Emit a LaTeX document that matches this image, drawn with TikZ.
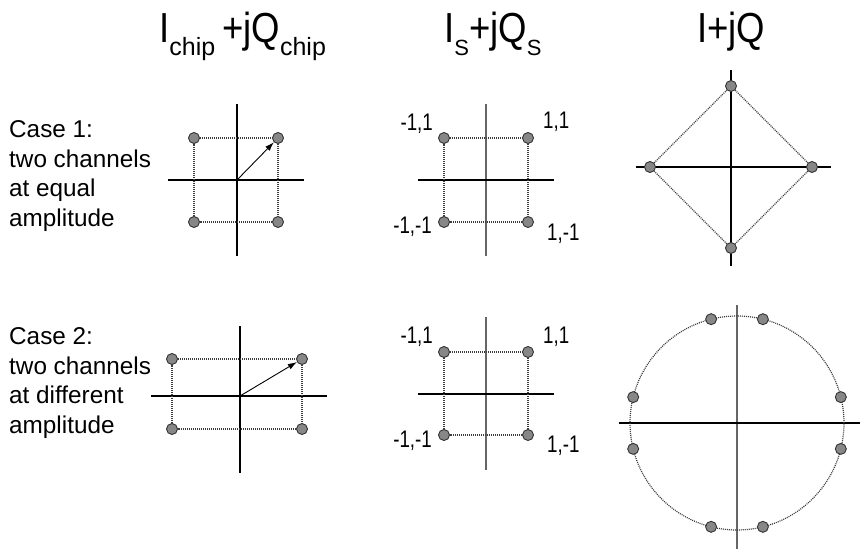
\documentclass[tikz,border=0pt]{standalone}
\usepackage{fontspec}
\setmainfont{Liberation Sans}
\newfontfamily\condfont{Liberation Sans}[FakeStretch=0.87]
\newfontfamily\lblfont{Liberation Sans}[FakeStretch=0.78]
\usepackage{tikz}
\usetikzlibrary{arrows.meta,positioning,calc}
\definecolor{dotgray}{RGB}{135,135,135}
\definecolor{dotedge}{RGB}{50,50,50}
\definecolor{guidegray}{RGB}{60,60,60}
\newcommand{\sub}[2][25]{\raisebox{-13pt}{\normalfont\fontsize{#1}{#1}\selectfont #2}}

\begin{document}
\begin{tikzpicture}[
x=1pt,y=-1pt,
dot/.style={circle,draw=dotedge,fill=dotgray,line width=0.9pt,minimum size=11pt,inner sep=0pt},
axis/.style={line width=1.2pt,black},
axisg/.style={line width=1.2pt,black!60},
guide/.style={guidegray,line width=1.2pt,dash pattern=on 1pt off 1pt},
vec/.style={-{Latex[length=9pt,width=6pt]},line width=0.9pt},
ttl/.style={anchor=base west,inner sep=0pt,font=\condfont\fontsize{42}{42}\selectfont},
lbl/.style={inner sep=0pt,font=\lblfont\fontsize{24}{24}\selectfont},
txt/.style={anchor=base west,inner sep=0pt,align=left,font=\fontsize{24.3}{29.5}\selectfont}
]
\useasboundingbox (0,0) rectangle (862,554);

% column titles
\node[ttl] (t1) at (159,42) {I\sub{chip}\hspace{7pt}+jQ\sub{chip}};
\node[ttl] (t2) at (444,42) {I\sub[22]{S}+jQ\sub[22]{S}};
\node[ttl] (t3) at (697,42) {I+jQ};

% row captions (base = last line)
\node[txt] (case1) at (9,226) {Case 1:\\two channels\\at equal\\amplitude};
\node[txt] (case2) at (9,433) {Case 2:\\two channels\\at different\\amplitude};

% case 1, chip
\coordinate (o11) at (237,180);
\draw[axis] (237,104) -- (237,256);
\draw[axis] (168,180) -- (304,180);
\node[dot] (a11) at (194,138) {};
\node[dot] (b11) at (278,138) {};
\node[dot] (c11) at (278,222) {};
\node[dot] (d11) at (194,222) {};
\draw[guide] (a11) -- (b11) -- (c11) -- (d11) -- (a11);
\draw[vec] (o11) -- (b11);

% case 1, symbols
\draw[axisg] (486,104) -- (486,256);
\draw[axis] (418,180) -- (554,180);
\node[dot] (a12) at (444,138) {};
\node[dot] (b12) at (528,138) {};
\node[dot] (c12) at (528,222) {};
\node[dot] (d12) at (444,222) {};
\draw[guide] (a12) -- (b12) -- (c12) -- (d12) -- (a12);
\node[lbl,anchor=base east] (la12) at (433,130) {-1,1};
\node[lbl,anchor=base west] (lb12) at (543,128) {1,1};
\node[lbl,anchor=base west] (lc12) at (547,240) {1,-1};
\node[lbl,anchor=base east] (ld12) at (432,233) {-1,-1};

% case 1, sum
\draw[axis] (731,70) -- (731,266);
\draw[axis] (636,167) -- (831,167);
\node[dot] (t13) at (731,86) {};
\node[dot] (r13) at (812,167) {};
\node[dot] (b13) at (731,248) {};
\node[dot] (l13) at (650,167) {};
\draw[guide] (t13) -- (r13) -- (b13) -- (l13) -- (t13);

% case 2, chip
\coordinate (o21) at (240,396);
\draw[axis] (240,326) -- (240,473);
\draw[axis] (151,396) -- (327,396);
\node[dot] (a21) at (172,359) {};
\node[dot] (b21) at (302,359) {};
\node[dot] (c21) at (302,429) {};
\node[dot] (d21) at (172,429) {};
\draw[guide] (a21) -- (b21) -- (c21) -- (d21) -- (a21);
\draw[vec] (o21) -- (b21);

% case 2, symbols
\draw[axisg] (486,317) -- (486,470);
\draw[axis] (418,394) -- (554,394);
\node[dot] (a22) at (444,352) {};
\node[dot] (b22) at (528,352) {};
\node[dot] (c22) at (528,435) {};
\node[dot] (d22) at (444,435) {};
\draw[guide] (a22) -- (b22) -- (c22) -- (d22) -- (a22);
\node[lbl,anchor=base east] (la22) at (433,343) {-1,1};
\node[lbl,anchor=base west] (lb22) at (543,343) {1,1};
\node[lbl,anchor=base west] (lc22) at (547,452) {1,-1};
\node[lbl,anchor=base east] (ld22) at (432,447) {-1,-1};

% case 2, sum
\coordinate (o23) at (737,423);
\draw[axisg] (737,305) -- (737,549);
\draw[axis] (619,423) -- (860,423);
\draw[guide] (o23) circle[radius=107pt];
\foreach \a in {14,76,104,166,194,256,284,346}
  \node[dot] (q\a) at ($(o23)+(\a:107pt)$) {};
\end{tikzpicture}
\end{document}
